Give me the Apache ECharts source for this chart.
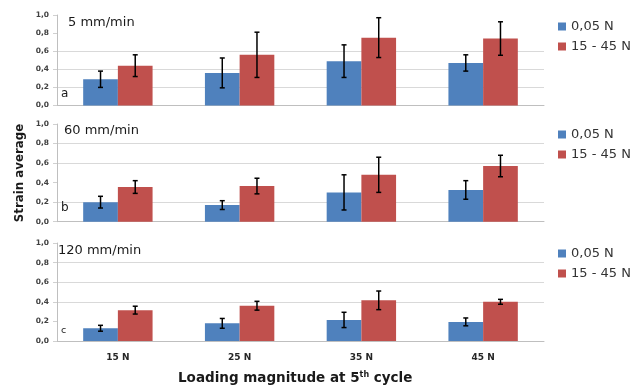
<!DOCTYPE html>
<html><head><meta charset="utf-8">
<script src="https://cdn.jsdelivr.net/npm/echarts@6/dist/echarts.min.js"></script>
<style>html,body{margin:0;padding:0;background:#fff}#c{width:640px;height:388px}</style>
</head><body><div id="c"></div>
<script>
const categories = ['15 N', '25 N', '35 N', '45 N'];
const seriesNames = ['0,05 N', '15 - 45 N'];
const yTickLabels = ['0,0', '0,2', '0,4', '0,6', '0,8', '1,0'];
const panelTitles = ['5 mm/min', '60 mm/min', '120 mm/min'];
const panelLetters = ['a', 'b', 'c'];
const xTitle = 'Loading magnitude at 5';
const xTitleSup = 'th';
const xTitleEnd = ' cycle';
const yTitle = 'Strain average';

// panel a (5 mm/min)
const aLow = [0.29, 0.36, 0.49, 0.47];
const aLowErr = [0.09, 0.165, 0.18, 0.09];
const aHigh = [0.44, 0.56, 0.75, 0.74];
const aHighErr = [0.12, 0.25, 0.22, 0.185];
// panel b (60 mm/min)
const bLow = [0.20, 0.17, 0.30, 0.325];
const bLowErr = [0.06, 0.045, 0.18, 0.095];
const bHigh = [0.355, 0.365, 0.48, 0.57];
const bHighErr = [0.065, 0.08, 0.18, 0.11];
// panel c (120 mm/min)
const cLow = [0.13, 0.18, 0.215, 0.195];
const cLowErr = [0.03, 0.05, 0.078, 0.04];
const cHigh = [0.315, 0.36, 0.415, 0.40];
const cHighErr = [0.04, 0.045, 0.095, 0.025];

const panels = [
  {low: aLow, lowErr: aLowErr, high: aHigh, highErr: aHighErr},
  {low: bLow, lowErr: bLowErr, high: bHigh, highErr: bHighErr},
  {low: cLow, lowErr: cLowErr, high: cHigh, highErr: cHighErr}
];

const COLORS = ['#4f81bd', '#c0504d'];
const GAP = 0.43;
const FONT = 'DejaVu Sans';
const grids = [
  {left: 57, width: 487, top: 15, height: 90.5},
  {left: 57, width: 487, top: 124, height: 97.7},
  {left: 57, width: 487, top: 243, height: 98}
];
const legendTops = [15, 123, 242];
const gl = '#d9d9d9', tr = 'rgba(0,0,0,0)';
const splitColors = [
  [tr, gl, gl, gl, tr, tr],
  [tr, gl, tr, gl, gl, tr],
  [tr, tr, gl, gl, gl, tr]
];

function errRender(side) {
  return function (params, api) {
    const idx = api.value(0), v = api.value(1), e = api.value(2);
    const band = api.size([1, 0])[0];
    const barW = band * (1 - GAP) / 2;
    const cx = api.coord([idx, v])[0] + side * barW / 2;
    const yt = api.coord([idx, v + e])[1];
    const yb = api.coord([idx, v - e])[1];
    const st = {stroke: '#000', lineWidth: 1.5};
    return {type: 'group', children: [
      {type: 'line', shape: {x1: cx, y1: yt, x2: cx, y2: yb}, style: st},
      {type: 'line', shape: {x1: cx - 2.5, y1: yt, x2: cx + 2.5, y2: yt}, style: st},
      {type: 'line', shape: {x1: cx - 2.5, y1: yb, x2: cx + 2.5, y2: yb}, style: st}
    ]};
  };
}

const xAxes = [], yAxes = [], series = [], legends = [];
panels.forEach((p, i) => {
  xAxes.push({
    type: 'category', gridIndex: i, data: categories,
    axisLine: {lineStyle: {color: '#bfbfbf'}},
    axisTick: {show: false},
    axisLabel: {show: i === 2, margin: 12, fontFamily: FONT, fontWeight: 'bold', fontSize: 9, color: '#262626'}
  });
  yAxes.push({
    type: 'value', gridIndex: i, min: 0, max: 1, interval: 0.2,
    axisLine: {show: true, lineStyle: {color: '#bfbfbf'}},
    axisTick: {show: true, length: 4, lineStyle: {color: '#d0d0d0'}},
    splitLine: {show: true, lineStyle: {color: splitColors[i]}},
    axisLabel: {margin: 8, fontFamily: FONT, fontWeight: 'bold', fontSize: 7.5, color: '#404040',
      formatter: v => yTickLabels[Math.round(v / 0.2)]}
  });
  const vals = [[p.low, p.lowErr], [p.high, p.highErr]];
  vals.forEach((d, s) => {
    series.push({
      type: 'bar', name: seriesNames[s], xAxisIndex: i, yAxisIndex: i,
      data: d[0], barGap: '0%', barCategoryGap: (GAP * 100) + '%',
      itemStyle: {color: COLORS[s]}, emphasis: {disabled: true}
    });
  });
  vals.forEach((d, s) => {
    series.push({
      type: 'custom', name: 'err' + i + s, xAxisIndex: i, yAxisIndex: i, z: 5,
      renderItem: errRender(s === 0 ? -1 : 1),
      data: d[0].map((v, k) => [k, v, d[1][k]])
    });
  });
  legends.push({
    data: seriesNames, orient: 'vertical', left: 553, top: legendTops[i],
    itemWidth: 8, itemHeight: 8, itemGap: 7, icon: 'rect',
    textStyle: {fontFamily: FONT, fontSize: 13, color: '#333'}
  });
});

const titleY = [24, 132, 252.5];
const titleX = [68, 64, 58];
const letterY = [96, 210, 332];
const graphics = [];
panelTitles.forEach((t, i) => {
  graphics.push({type: 'text', left: titleX[i], top: titleY[i] - 8, z: 10,
    style: {text: t, fontFamily: FONT, fontSize: 13, fill: '#1a1a1a'}});
  graphics.push({type: 'text', left: 61, top: letterY[i] - (i === 2 ? 6 : 8), z: 10,
    style: {text: panelLetters[i], fontFamily: FONT, fontSize: i === 2 ? 9.5 : 12, fill: '#1a1a1a'}});
});
graphics.push({type: 'text', left: 178, top: 371, z: 10,
  style: {text: '{m|' + xTitle + '}{s|' + xTitleSup + '}{m|' + xTitleEnd + '}',
    rich: {m: {fontFamily: FONT, fontWeight: 'bold', fontSize: 13.5, fill: '#1a1a1a', verticalAlign: 'bottom'},
           s: {fontFamily: FONT, fontWeight: 'bold', fontSize: 8, fill: '#1a1a1a', verticalAlign: 'top'}}}});
graphics.push({type: 'text', x: 20, y: 173, rotation: Math.PI / 2, z: 10,
  style: {text: yTitle, fontFamily: FONT, fontWeight: 'bold', fontSize: 11.8, fill: '#1a1a1a',
    align: 'center', verticalAlign: 'middle'}});

const chart = echarts.init(document.getElementById('c'), null, {renderer: 'canvas'});
chart.setOption({
  animation: false,
  backgroundColor: '#fff',
  grid: grids,
  xAxis: xAxes,
  yAxis: yAxes,
  legend: legends,
  series: series,
  graphic: graphics
});
</script></body></html>
